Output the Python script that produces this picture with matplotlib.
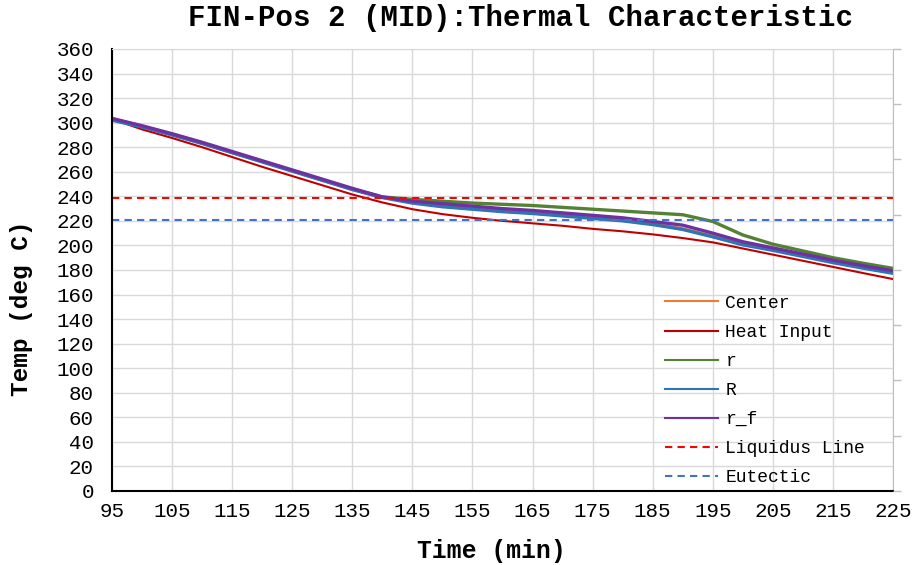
import numpy as np
import matplotlib.pyplot as plt

# time axis (min) and temperatures (deg C)
time = [95, 100, 105, 110, 115, 120, 125, 130, 135, 140, 145, 150, 155, 160,
        165, 170, 175, 180, 185, 190, 195, 200, 205, 210, 215, 220, 225]

heat_input = [303, 294.5, 287.5, 280, 272, 264, 256.5, 249, 241.5, 235, 229.5, 225.5, 222.5, 220,
              218, 216, 213.5, 211.5, 209, 206, 202.5, 197.5, 192.5, 187.5, 182.5, 177.5, 172.6]
r_small = [303, 297, 290.5, 283.5, 276, 268.5, 261, 253.5, 246, 239.5, 237.5, 236, 234.5, 233.5,
           232.5, 231, 229.5, 228, 226.5, 225, 219.5, 208.5, 201, 195.5, 190, 185.5, 181.3]
r_big = [302, 296.5, 290, 283, 275.5, 268, 260.5, 253, 245.5, 239, 234.5, 231.5, 229.5, 227.5,
         226, 224, 222, 220, 217, 213, 207, 200.5, 196, 191, 186, 181.5, 177.3]
center = [302.3, 296.8, 290.3, 283.3, 275.8, 268.3, 260.8, 253.3, 245.8, 239.2, 235, 232, 230, 228,
          226.5, 224.5, 222.5, 220.5, 217.5, 213.5, 207.5, 201, 196.5, 191.5, 186.5, 182, 177.8]
r_f = [303.5, 297.5, 291, 284, 276.5, 269, 261.5, 254, 246.5, 239.5, 236, 234, 232, 230,
       228.5, 226.5, 224.5, 222.5, 219.5, 216.5, 210, 203, 198, 193, 188, 183.5, 179.4]

liquidus = 238.5
eutectic = 221

xticks = list(range(95, 226, 10))
yticks = list(range(0, 361, 20))

mono = 'Liberation Mono'

fig = plt.figure(figsize=(9.18, 5.65), dpi=100)
ax = fig.add_axes([0.122, 0.131, 0.8508, 0.7823])

ax.plot(time, center, color='#ED7D31', lw=2.4, label='Center')
ax.plot(time, heat_input, color='#C00000', lw=1.5, label='Heat Input')
ax.plot(time, r_small, color='#548235', lw=2.4, label='r')
ax.plot(time, r_big, color='#2E75B6', lw=2.4, label='R')
ax.plot(time, r_f, color='#7030A0', lw=2.4, label='r_f')
ax.axhline(liquidus, color='#FF0000', lw=1.5, ls=(0, (3.5, 2.5)), label='Liquidus Line')
ax.axhline(eutectic, color='#4472C4', lw=1.5, ls=(0, (3.5, 2.5)), label='Eutectic')

ax.set_xlim(95, 225)
ax.set_ylim(0, 360)
ax.set_xticks(xticks)
ax.set_yticks(yticks)
ax.grid(True, color='#D9D9D9', lw=1)
ax.set_axisbelow(True)
ax.tick_params(axis='both', length=0, labelsize=15)
ax.tick_params(axis='x', pad=8)
ax.tick_params(axis='y', pad=13)
for lab in ax.get_xticklabels() + ax.get_yticklabels():
    lab.set_family(mono)

ax.spines['left'].set_color('black')
ax.spines['bottom'].set_color('black')
ax.spines['left'].set_linewidth(1.5)
ax.spines['bottom'].set_linewidth(1.5)
ax.spines['top'].set_color('#D9D9D9')
ax.spines['right'].set_color('#BFBFBF')

# unlabeled secondary axis ticks on the right
ax2 = ax.twinx()
ax2.set_ylim(0, 8)
ax2.set_yticks(range(9))
ax2.set_yticklabels([])
ax2.tick_params(axis='y', length=6, color='#BFBFBF', width=1)
for s in ax2.spines.values():
    s.set_visible(False)

fig.text(520 / 918, 1 - 18 / 565, 'FIN-Pos 2 (MID):Thermal Characteristic', family=mono,
         fontweight='bold', fontsize=21, ha='center', va='center')
ax.set_xlabel('Time (min)', family=mono, fontweight='bold', fontsize=17.8, va='center')
ax.xaxis.set_label_coords((491 - 112) / 781, (491 - 551) / 442)
ax.set_ylabel('Temp (deg C)', family=mono, fontweight='bold', fontsize=17.6, va='center')
ax.yaxis.set_label_coords((22 - 112) / 781, (491 - 308) / 442)

leg = ax.legend(loc='upper left', bbox_to_anchor=(0.708, 0.444), frameon=False,
                prop={'family': mono, 'size': 13}, handlelength=2.95,
                handletextpad=0.4, labelspacing=0.67, borderaxespad=0, borderpad=0)
for h in leg.get_lines():
    h.set_linewidth(1.5)

fig.savefig('out.png', dpi=100)
